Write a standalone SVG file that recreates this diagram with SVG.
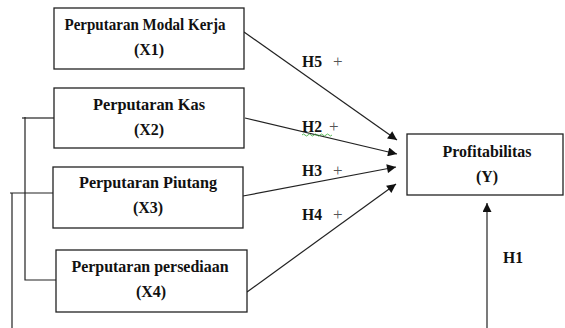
<svg xmlns="http://www.w3.org/2000/svg" width="565" height="328" viewBox="0 0 565 328">
<defs>
<style>
.box{fill:#fff;stroke:#222;stroke-width:1.3}
.t{font-family:"Liberation Serif","Times New Roman",serif;font-weight:bold;font-size:16px;fill:#111;text-anchor:middle}
.lbl{font-family:"Liberation Serif","Times New Roman",serif;font-weight:bold;font-size:16px;fill:#111}
.plus{font-family:"Liberation Serif","Times New Roman",serif;font-size:17px;fill:#555}
.ln{stroke:#222;stroke-width:1.2;fill:none}
</style>
<marker id="ah" viewBox="0 0 10 10" refX="10" refY="5" markerWidth="10" markerHeight="9" markerUnits="userSpaceOnUse" orient="auto">
<path d="M0,0 L10,5 L0,10 Z" fill="#111"/>
</marker>
</defs>
<rect width="565" height="328" fill="#fff"/>
<g id="connectors">
<line class="ln" x1="244" y1="32" x2="397" y2="140" marker-end="url(#ah)"/>
<line class="ln" x1="245" y1="118" x2="397" y2="154" marker-end="url(#ah)"/>
<line class="ln" x1="243" y1="196" x2="396" y2="167" marker-end="url(#ah)"/>
<line class="ln" x1="247" y1="292" x2="396" y2="184" marker-end="url(#ah)"/>
<line class="ln" x1="487" y1="328" x2="487" y2="203" marker-end="url(#ah)"/>
<polyline class="ln" points="22,118 54,118"/>
<polyline class="ln" points="25,117 25,280 56,280"/>
<polyline class="ln" points="10,193 53,193"/>
<polyline class="ln" points="12,193 12,328"/>
</g>
<g id="labels">
<text class="lbl" x="302" y="67" textLength="20" lengthAdjust="spacingAndGlyphs">H5</text><text class="plus" x="333" y="67">+</text>
<text class="lbl" x="302" y="132" textLength="20" lengthAdjust="spacingAndGlyphs">H2</text><text class="plus" x="329" y="132">+</text>
<path d="M302,135 q1.5,-2 3,0 t3,0 t3,0 t3,0 t3,0 t3,0 t3,0 t3,0 t3,0 t3,0" stroke="#3a3" stroke-width="0.8" fill="none"/>
<text class="lbl" x="302" y="176" textLength="20" lengthAdjust="spacingAndGlyphs">H3</text><text class="plus" x="333" y="176">+</text>
<text class="lbl" x="302" y="220" textLength="20" lengthAdjust="spacingAndGlyphs">H4</text><text class="plus" x="333" y="220">+</text>
<text class="lbl" x="503" y="263" textLength="20" lengthAdjust="spacingAndGlyphs">H1</text>
</g>
<g id="X1">
<rect class="box" x="54" y="8" width="190" height="61"/>
<text class="t" x="145" y="30" textLength="161" lengthAdjust="spacingAndGlyphs">Perputaran Modal Kerja</text>
<text class="t" x="149" y="55">(X1)</text>
</g>
<g id="X2">
<rect class="box" x="54" y="88" width="190" height="60"/>
<text class="t" x="149" y="110" textLength="112" lengthAdjust="spacingAndGlyphs">Perputaran Kas</text>
<text class="t" x="149" y="135">(X2)</text>
</g>
<g id="X3">
<rect class="box" x="53" y="167" width="190" height="61"/>
<text class="t" x="148" y="188" textLength="138" lengthAdjust="spacingAndGlyphs">Perputaran Piutang</text>
<text class="t" x="148" y="213">(X3)</text>
</g>
<g id="X4">
<rect class="box" x="56" y="250" width="191" height="62"/>
<text class="t" x="150" y="272" textLength="157" lengthAdjust="spacingAndGlyphs">Perputaran persediaan</text>
<text class="t" x="151" y="297">(X4)</text>
</g>
<g id="Y">
<rect class="box" x="407" y="134" width="156" height="61"/>
<text class="t" x="487" y="157" textLength="89" lengthAdjust="spacingAndGlyphs">Profitabilitas</text>
<text class="t" x="487" y="182">(Y)</text>
</g>
</svg>
